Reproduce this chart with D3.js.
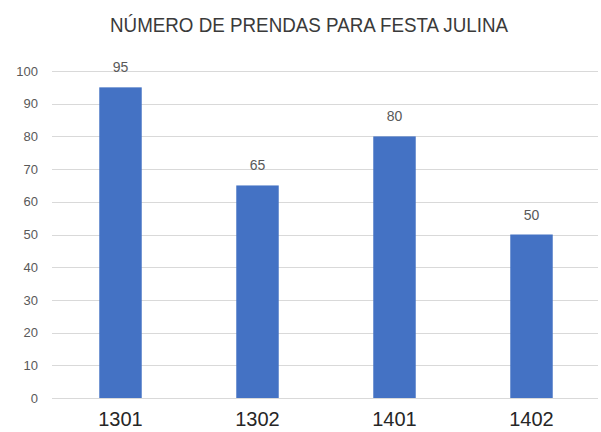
<!DOCTYPE html>
<html>
<head>
<meta charset="utf-8">
<script src="https://cdn.jsdelivr.net/npm/d3@7"></script>
<style>
  html, body { margin: 0; padding: 0; background: #fff; }
  svg { display: block; }
</style>
</head>
<body>
<svg id="chart" width="601" height="432"></svg>
<script>
// Chart data
const title = "NÚMERO DE PRENDAS PARA FESTA JULINA";
const categories = ["1301", "1302", "1401", "1402"];
const values = [95, 65, 80, 50];
const yTicks = [0, 10, 20, 30, 40, 50, 60, 70, 80, 90, 100];

const svg = d3.select("#chart");
const W = 601, H = 432;
const margin = { top: 71, right: 1, bottom: 34, left: 52 };
const innerH = H - margin.top - margin.bottom;

const x = d3.scaleBand()
  .domain(categories)
  .range([margin.left, W - margin.right])
  .paddingInner(0.69)
  .paddingOuter(0.345);

const y = d3.scaleLinear()
  .domain([0, 100])
  .range([margin.top + innerH, margin.top]);

// Title (condensed to the narrow face width)
svg.append("text")
  .attr("x", 309)
  .attr("y", 32)
  .attr("text-anchor", "middle")
  .attr("font-family", "Liberation Sans, Arial, sans-serif")
  .attr("font-size", 21)
  .attr("fill", "#3a3a3a")
  .attr("textLength", 398)
  .attr("lengthAdjust", "spacingAndGlyphs")
  .text(title);

// Gridlines
svg.append("g")
  .selectAll("line")
  .data(yTicks)
  .join("line")
  .attr("x1", margin.left)
  .attr("x2", W - 3)
  .attr("y1", d => Math.round(y(d)) + 0.5)
  .attr("y2", d => Math.round(y(d)) + 0.5)
  .attr("stroke", "#d9d9d9")
  .attr("stroke-width", 1);

// Y axis tick labels
const yAxis = d3.axisLeft(y).tickValues(yTicks).tickSize(0).tickPadding(0);
const gy = svg.append("g")
  .attr("transform", `translate(38,0)`)
  .call(yAxis);
gy.select(".domain").remove();
gy.selectAll("text")
  .attr("font-family", "Liberation Sans, Arial, sans-serif")
  .attr("font-size", 13)
  .attr("fill", "#595959");

// Bars
svg.append("g")
  .selectAll("rect")
  .data(categories.map((c, i) => ({ c, v: values[i] })))
  .join("rect")
  .attr("x", d => x(d.c))
  .attr("y", d => y(d.v))
  .attr("width", x.bandwidth())
  .attr("height", d => y(0) - y(d.v))
  .attr("fill", "#4472c4");

// Value labels
svg.append("g")
  .selectAll("text")
  .data(categories.map((c, i) => ({ c, v: values[i] })))
  .join("text")
  .attr("x", d => x(d.c) + x.bandwidth() / 2)
  .attr("y", d => y(d.v) - 15)
  .attr("text-anchor", "middle")
  .attr("font-family", "Liberation Sans, Arial, sans-serif")
  .attr("font-size", 14)
  .attr("fill", "#595959")
  .text(d => d.v);

// X axis category labels
const xAxis = d3.axisBottom(x).tickSize(0).tickPadding(0);
const gx = svg.append("g")
  .attr("transform", `translate(0,${y(0) + 14})`)
  .call(xAxis);
gx.select(".domain").remove();
gx.selectAll("text")
  .attr("font-family", "Liberation Sans, Arial, sans-serif")
  .attr("font-size", 20)
  .attr("fill", "#262626");
</script>
</body>
</html>
